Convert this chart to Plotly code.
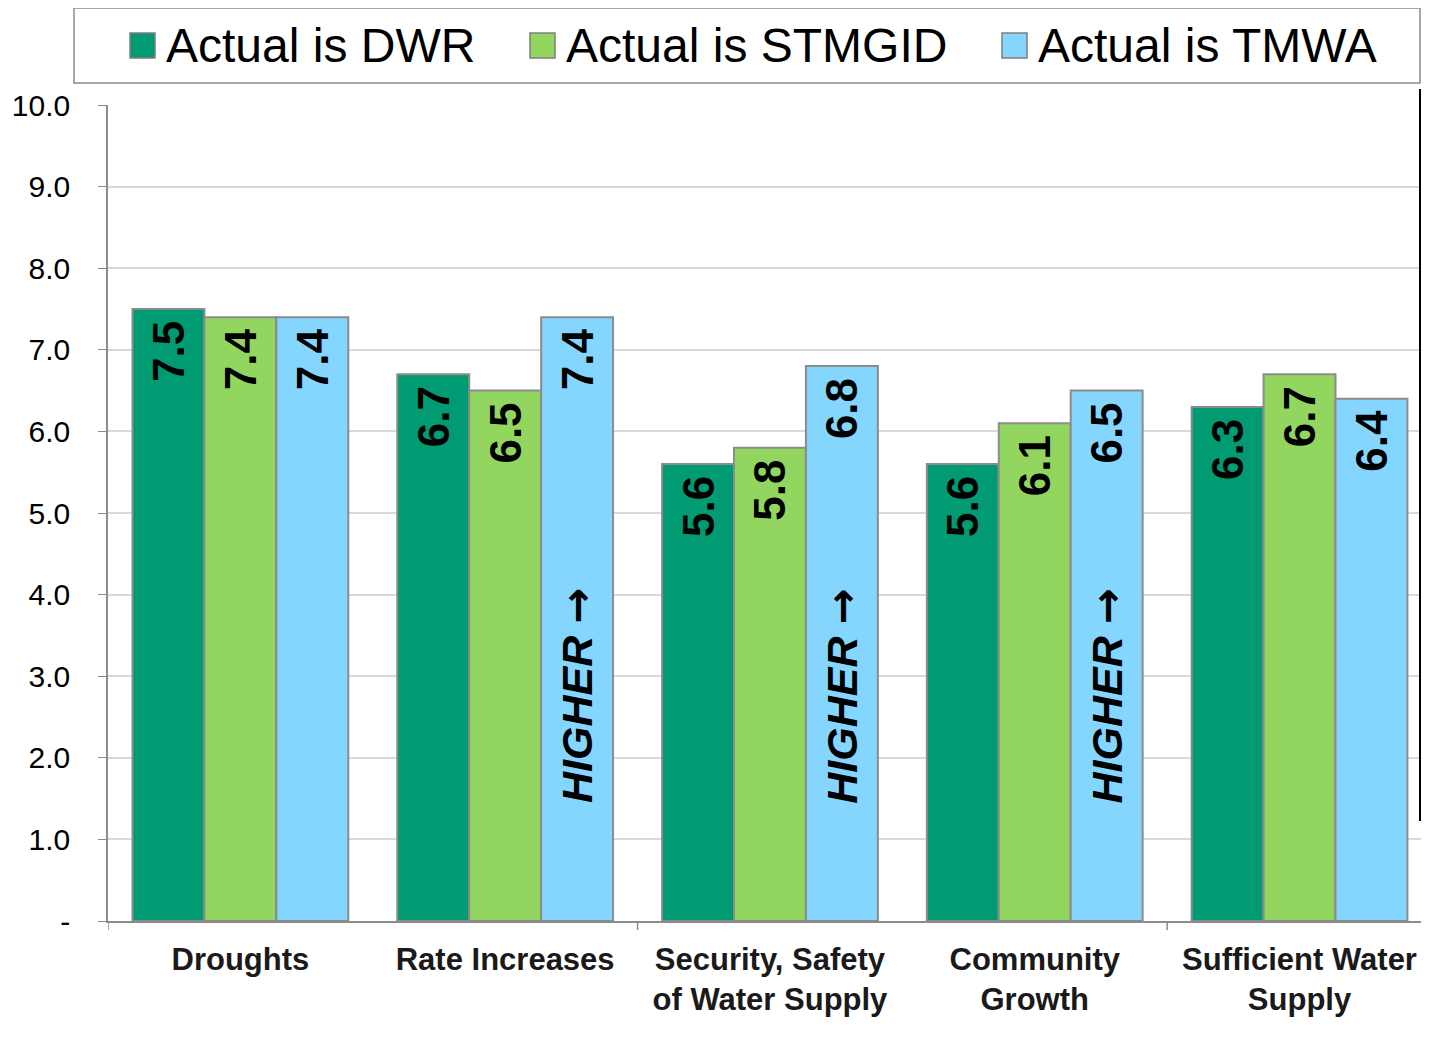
"""Ranked concerns by actual water provider (Plotly)."""

import plotly.graph_objs as go

categories = [
    "Droughts",
    "Rate Increases",
    "Security, Safety<br>of Water Supply",
    "Community<br>Growth",
    "Sufficient Water<br>Supply",
]
dwr = [7.5, 6.7, 5.6, 5.6, 6.3]
stmgid = [7.4, 6.5, 5.8, 6.1, 6.7]
tmwa = [7.4, 7.4, 6.8, 6.5, 6.4]
series_names = ["Actual is DWR", "Actual is STMGID", "Actual is TMWA"]
higher_cats = [categories[1], categories[2], categories[3]]
ytick_vals = [0, 1, 2, 3, 4, 5, 6, 7, 8, 9, 10]
ytick_text = ["-", "1.0", "2.0", "3.0", "4.0", "5.0", "6.0", "7.0", "8.0", "9.0", "10.0"]

colors = ["#009B72", "#92D65F", "#84D6FF"]
FONT = "Liberation Sans, Arial, sans-serif"

# the page body has an 8px margin, so the figure is offset by that much
OFF = 8
W, H = 1429 - OFF, 1040 - OFF
L, T = 108 - OFF, 105 - OFF
B = H - (921 - OFF)
PW, PH = W - L, H - T - B


def px(x):
    return (x - OFF - L) / PW


def py(y):
    return (H - B - (y - OFF)) / PH


fig = go.Figure()
for name, vals, col in zip(series_names, [dwr, stmgid, tmwa], colors):
    fig.add_trace(go.Bar(
        x=categories,
        y=vals,
        name=name,
        marker=dict(color=col, line=dict(color="#8C8C8C", width=2)),
        texttemplate="<b>%{y:.1f}\u2009</b>",
        textposition="inside",
        insidetextanchor="end",
        textangle=-90,
        constraintext="none",
        textfont=dict(family=FONT, size=44, color="black"),
        showlegend=False,
    ))

# "HIGHER ->" notes inside the TMWA bars
for cat in higher_cats:
    fig.add_annotation(
        x=cat, y=2.76, xref="x", yref="y", xshift=72,
        text="<b><i>HIGHER</i> <span style='font-family:DejaVu Sans'>→</span></b>",
        textangle=-90, showarrow=False,
        font=dict(family=FONT, size=43, color="black"),
    )

shapes = []
# x axis tick marks every other category boundary
for xv in [-0.5, 1.5, 3.5]:
    shapes.append(dict(type="line", xref="x", yref="paper", x0=xv, x1=xv,
                       y0=0, y1=-9 / PH, line=dict(color="#8C8C8C", width=1.5)))

# manual legend
shapes.append(dict(type="rect", xref="paper", yref="paper",
                   x0=px(74), x1=px(1420), y0=py(83), y1=py(8),
                   line=dict(color="#8C8C8C", width=1.5), fillcolor="white"))
leg_sq = [130, 530, 1002]
for sx, col, name in zip(leg_sq, colors, series_names):
    shapes.append(dict(type="rect", xref="paper", yref="paper",
                       x0=px(sx), x1=px(sx + 25), y0=py(58), y1=py(33),
                       line=dict(color="#7F7F7F", width=1.5), fillcolor=col))
    fig.add_annotation(x=px(sx + 34), y=py(45), xref="paper", yref="paper",
                       text=name, showarrow=False, xanchor="left", yanchor="middle",
                       font=dict(family=FONT, size=48, color="black"))

# cut-off text box on the right edge
shapes.append(dict(type="rect", xref="paper", yref="paper",
                   x0=px(1420), x1=px(1440), y0=py(820), y1=py(90),
                   line=dict(color="black", width=2), fillcolor="#DDF2EA"))

fig.update_layout(
    width=W, height=H,
    barmode="group",
    bargap=0.185,
    bargroupgap=0,
    plot_bgcolor="white",
    paper_bgcolor="white",
    margin=dict(l=L, r=0, t=T, b=B),
    shapes=shapes,
    font=dict(family=FONT, color="black"),
    xaxis=dict(
        range=[-0.5, 4.489],
        showline=True, linecolor="#8C8C8C", linewidth=1.5,
        ticks="", showgrid=False,
        ticklabelstandoff=10,
        tickfont=dict(family=FONT, size=31, color="#1A1A1A"),
        tickprefix="<b>", ticksuffix="</b>",
    ),
    yaxis=dict(
        range=[0, 10],
        tickvals=ytick_vals, ticktext=ytick_text,
        showline=True, linecolor="#8C8C8C", linewidth=1.5,
        ticks="outside", ticklen=8, tickcolor="#8C8C8C",
        ticklabelstandoff=22,
        gridcolor="#D9D9D9", gridwidth=1.5,
        zeroline=False,
        tickfont=dict(family=FONT, size=30, color="black"),
    ),
)

fig.write_html("out.html")
